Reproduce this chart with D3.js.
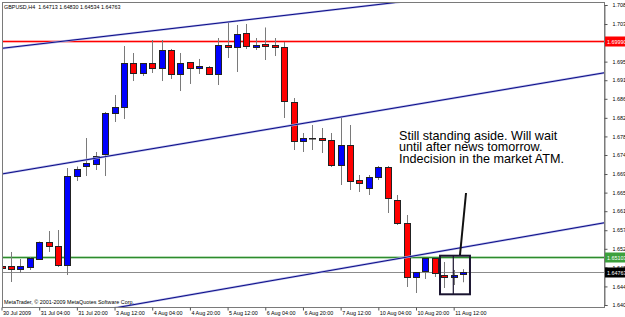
<!DOCTYPE html>
<html>
<head>
<meta charset="utf-8">
<script src="https://cdn.jsdelivr.net/npm/d3@7"></script>
<style>
body { margin:0; background:#fff; }
svg text { font-family: "Liberation Sans", Arial, sans-serif; }
</style>
</head>
<body>
<svg id="chart" width="625" height="317"></svg>
<script>
// GBPUSD H4 candles, one per bar index
var opens = [1.64901,1.64901,1.64834,1.64879,1.65060,1.65444,1.65353,1.64924,1.66935,1.67161,
	1.67207,1.67433,1.68359,1.68495,1.69489,1.69263,1.69478,1.69376,1.69794,1.69241,
	1.69501,1.69376,1.69399,1.69241,1.69896,1.69862,1.70156,1.69862,1.69919,1.69896,
	1.69840,1.68597,1.67715,1.67783,1.67794,1.67760,1.67184,1.67647,1.66834,1.66664,
	1.66913,1.67139,1.66382,1.65873,1.64653,1.64777,1.65071,1.64709,1.64653,1.64713];
var highs = [1.64969,1.65218,1.65060,1.65105,1.65455,1.65692,1.65715,1.67116,1.67150,1.67794,
	1.67478,1.68382,1.68766,1.69873,1.69715,1.69489,1.70009,1.70009,1.69806,1.69715,
	1.69512,1.69580,1.69421,1.70054,1.70438,1.70348,1.70371,1.70054,1.70292,1.70054,
	1.69964,1.68698,1.67907,1.68088,1.68020,1.67907,1.68269,1.68088,1.66958,1.66958,
	1.67161,1.67161,1.66506,1.66054,1.64766,1.65082,1.65082,1.64992,1.64811,1.64830];
var lows = [1.64788,1.64540,1.64743,1.64811,1.65037,1.65218,1.64879,1.64698,1.66822,1.66935,
	1.67071,1.66935,1.68156,1.68224,1.69082,1.69195,1.69263,1.69082,1.69128,1.68856,
	1.69015,1.69241,1.69218,1.68992,1.69602,1.69286,1.69806,1.69783,1.69557,1.69647,
	1.68246,1.67523,1.67478,1.67523,1.67455,1.67139,1.66732,1.66619,1.66574,1.66506,
	1.66845,1.66099,1.65828,1.64427,1.64291,1.64608,1.64653,1.64404,1.64472,1.64534];
var closes = [1.64856,1.64834,1.64901,1.65082,1.65444,1.65353,1.64924,1.66935,1.67094,1.67229,
	1.67387,1.68359,1.68495,1.69489,1.69263,1.69478,1.69376,1.69794,1.69241,1.69489,
	1.69376,1.69421,1.69241,1.69896,1.69851,1.70145,1.69862,1.69907,1.69885,1.69840,
	1.68630,1.67715,1.67794,1.67787,1.67749,1.67184,1.67647,1.66834,1.66777,1.66913,
	1.67139,1.66438,1.65873,1.64653,1.64755,1.65071,1.64721,1.64653,1.64687,1.64763];

var timeBars = [0,4,8,12,16,20,24,28,32,36,40,44,48];
var timeLabels = ["30 Jul 2009","31 Jul 04:00","31 Jul 20:00","3 Aug 12:00","4 Aug 04:00",
	"4 Aug 20:00","5 Aug 12:00","6 Aug 04:00","6 Aug 20:00","7 Aug 12:00",
	"10 Aug 04:00","10 Aug 20:00","11 Aug 12:00"];
var priceTicks = [1.70800,1.70370,1.69950,1.69520,1.69100,1.68680,1.68250,1.67830,1.67410,
	1.66980,1.66560,1.66140,1.65710,1.65290,1.64870,1.64440,1.64020];

// drawn objects: trendlines as [bar, price] pairs
var trendLines = [
	[[0.05, 1.69821], [42.3, 1.70868]],
	[[0.05, 1.66981], [63.85, 1.69263]],
	[[12.9, 1.63986], [63.85, 1.65873]]
];
var priceLines = [
	{price: 1.69995, label: "1.69990", color: "#ff0000", halo: "#ffb0b0", bg: "#ff0000", fg: "#fff"},
	{price: 1.65103, label: "1.65103", color: "#2e8b2e", halo: "#b6dcb6", bg: "#3ca03c", fg: "#fff"},
	{price: 1.64763, label: "1.64763", color: "#8c8c8c", halo: null, bg: "#000", fg: "#fff"}
];
var boxBars = [46.55, 49.73], boxPrices = [1.65134, 1.64262], boxDivider = 47.96;
var pointer = [[48.67, 1.65150], [49.31, 1.66551]];
var noteLines = ["Still standing aside. Will wait", "until after news tomorrow.", "Indecision in the market ATM."];
var notePos = [42.2, 1.67749];

var svg = d3.select("#chart");
var W = 625, H = 317;
var plotL = 2, plotR = 604, plotT = 2, plotB = 307;

var x = d3.scaleLinear().domain([0, 64]).range([1.5, 604.4]);
var y = d3.scaleLinear().domain([1.64020, 1.70800]).range([305, 5]);

svg.append("rect").attr("width", W).attr("height", H).attr("fill", "#fff");

svg.append("clipPath").attr("id", "plotclip")
	.append("rect").attr("x", plotL).attr("y", plotT)
	.attr("width", plotR - plotL).attr("height", plotB - plotT);

var plot = svg.append("g").attr("clip-path", "url(#plotclip)");

// horizontal price lines
priceLines.forEach(function(p) {
	var yy = Math.round(y(p.price)) + 0.5;
	if (p.halo) {
		plot.append("line").attr("x1", plotL).attr("x2", plotR)
			.attr("y1", yy).attr("y2", yy)
			.attr("stroke", p.halo).attr("stroke-width", 3);
	}
	plot.append("line").attr("x1", plotL).attr("x2", plotR)
		.attr("y1", yy).attr("y2", yy)
		.attr("stroke", p.color).attr("stroke-width", 1);
});

// candles
var idx = d3.range(opens.length);
plot.selectAll(".wick").data(idx).enter().append("line")
	.attr("class", "wick")
	.attr("x1", function(i){ return Math.round(x(i)) + 0.5; })
	.attr("x2", function(i){ return Math.round(x(i)) + 0.5; })
	.attr("y1", function(i){ return y(highs[i]); })
	.attr("y2", function(i){ return y(lows[i]); })
	.attr("stroke", "#7a7a7a").attr("stroke-width", 1);

plot.selectAll(".body").data(idx).enter().append("rect")
	.attr("class", "body")
	.attr("x", function(i){ return Math.round(x(i)) - 2.5; })
	.attr("width", 6)
	.attr("y", function(i){ return Math.round(y(Math.max(opens[i], closes[i]))) + 0.5; })
	.attr("height", function(i){ return Math.max(0.5, Math.round(Math.abs(y(opens[i]) - y(closes[i])))); })
	.attr("fill", function(i){ return closes[i] >= opens[i] ? "#0000ff" : "#ff0000"; })
	.attr("stroke", "#222").attr("stroke-width", 1);

// trendlines
trendLines.forEach(function(t) {
	var k = (t[1][1] - t[0][1]) / (t[1][0] - t[0][0]);
	var x0 = -2, x1 = 70;
	var pts = [[x0, t[0][1] + k * (x0 - t[0][0])], [x1, t[0][1] + k * (x1 - t[0][0])]];
	var ln = d3.line().x(function(d){ return x(d[0]); }).y(function(d){ return y(d[1]); });
	plot.append("path").attr("d", ln(pts)).attr("fill", "none")
		.attr("stroke", "#b4b8e6").attr("stroke-width", 2.2);
	plot.append("path").attr("d", ln(pts)).attr("fill", "none")
		.attr("stroke", "#0c0c88").attr("stroke-width", 1);
});

// box around the last candles + pointer
plot.append("rect")
	.attr("x", x(boxBars[0])).attr("y", y(boxPrices[0]))
	.attr("width", x(boxBars[1]) - x(boxBars[0]))
	.attr("height", y(boxPrices[1]) - y(boxPrices[0]))
	.attr("fill", "none").attr("stroke", "#1a1430").attr("stroke-width", 2);
plot.append("line")
	.attr("x1", x(boxDivider)).attr("x2", x(boxDivider))
	.attr("y1", y(boxPrices[0])).attr("y2", y(boxPrices[1]))
	.attr("stroke", "#1a1430").attr("stroke-width", 1.2);
plot.append("line")
	.attr("x1", x(pointer[0][0])).attr("y1", y(pointer[0][1]))
	.attr("x2", x(pointer[1][0])).attr("y2", y(pointer[1][1]))
	.attr("stroke", "#111").attr("stroke-width", 2);

// note
var note = plot.append("text")
	.attr("x", x(notePos[0])).attr("y", y(notePos[1]))
	.attr("font-size", 12.6).attr("fill", "#000");
noteLines.forEach(function(s, i) {
	note.append("tspan").attr("x", x(notePos[0])).attr("dy", i == 0 ? 0 : 11.3).text(s);
});

// frame
svg.append("rect").attr("x", plotL + 0.5).attr("y", plotT + 0.5)
	.attr("width", plotR - plotL).attr("height", plotB - plotT)
	.attr("fill", "none").attr("stroke", "#7a7a7a");

// axes
var yAxis = d3.axisRight(y).tickValues(priceTicks)
	.tickFormat(d3.format(".5f")).tickSize(3).tickPadding(5);
var gy = svg.append("g").attr("transform", "translate(" + (plotR + 0.5) + ",0)").call(yAxis);
gy.select(".domain").attr("stroke", "#7a7a7a");
gy.selectAll("line").attr("stroke", "#555");
gy.selectAll("text").attr("font-size", 5.4).attr("font-family", "Liberation Sans, Arial").attr("fill", "#000");

var xAxis = d3.axisBottom(x).tickValues(timeBars)
	.tickFormat(function(d, i){ return timeLabels[i]; }).tickSize(3);
var gx = svg.append("g").attr("transform", "translate(0," + (plotB + 0.5) + ")").call(xAxis);
gx.select(".domain").remove();
gx.selectAll("line").attr("stroke", "#555");
gx.selectAll("text").attr("font-size", 5.4).attr("font-family", "Liberation Sans, Arial")
	.attr("fill", "#000").attr("text-anchor", "start").attr("x", 1).attr("y", 3.5);

// price labels on the axis
priceLines.forEach(function(p) {
	var yy = Math.round(y(p.price)) + 0.5;
	svg.append("rect").attr("x", plotR + 1).attr("y", yy - 5)
		.attr("width", W - plotR).attr("height", 10).attr("fill", p.bg);
	svg.append("text").attr("x", plotR + 3).attr("y", yy + 2)
		.attr("font-size", 5.4).attr("fill", p.fg).text(p.label);
});

// header and copyright
svg.append("text").attr("x", 4).attr("y", 8.7).attr("font-size", 5.4).attr("fill", "#000")
	.style("white-space", "pre")
	.text("GBPUSD,H4  1.64713 1.64830 1.64534 1.64763");
svg.append("text").attr("x", 4).attr("y", 304).attr("font-size", 5.4).attr("fill", "#000")
	.text("MetaTrader, \u00a9 2001-2009 MetaQuotes Software Corp.");
</script>
</body>
</html>
